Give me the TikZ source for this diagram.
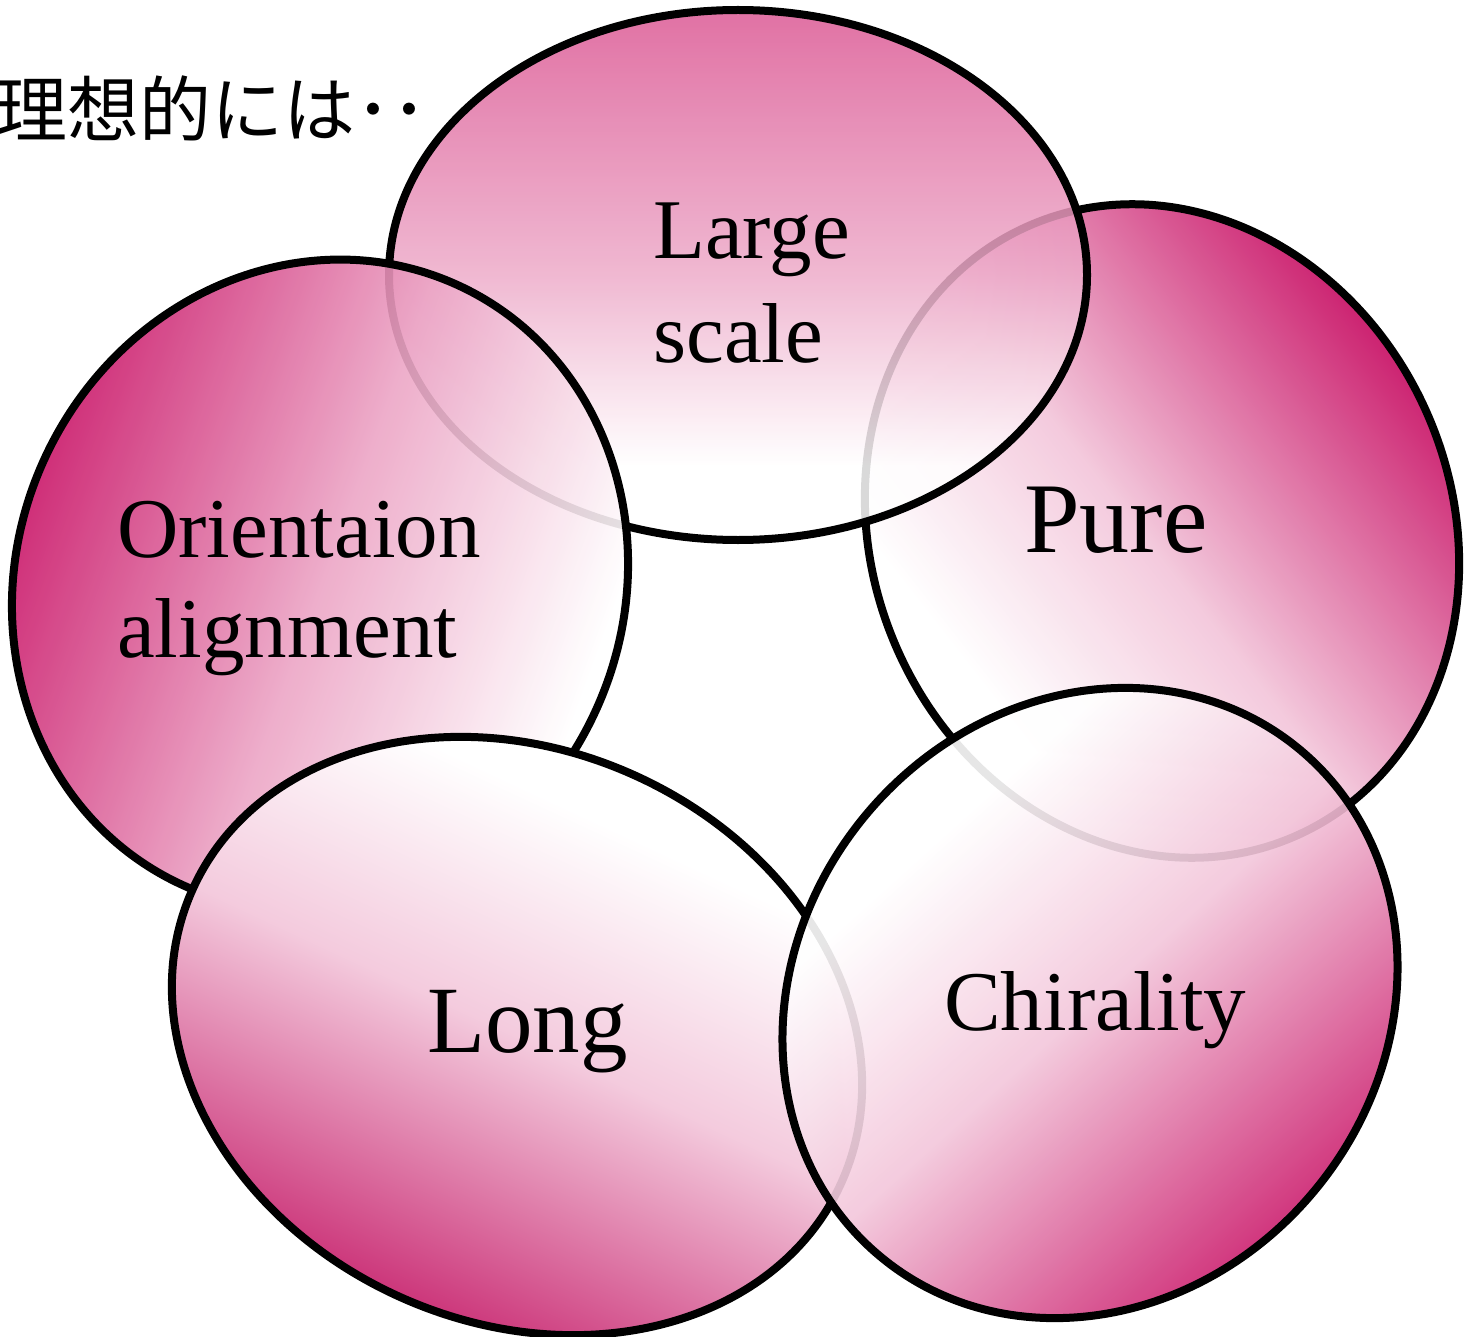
\documentclass[tikz,border=0pt]{standalone}
\usepackage{fontspec}
\setmainfont{Liberation Serif}
\newfontfamily\jpfont{Noto Sans CJK JP}
\definecolor{mag}{RGB}{204,17,102}
\definecolor{magd}{RGB}{196,0,90}
% dark end at the top, white end at the bottom (rotated with shading angle)
\pgfdeclareverticalshading{bubA}{100bp}{color(0bp)=(white); color(34bp)=(white); color(50bp)=(mag!24!white); color(75bp)=(magd); color(100bp)=(magd)}
\pgfdeclareverticalshading{bubG}{100bp}{color(0bp)=(white); color(34bp)=(white); color(50bp)=(mag!22!white); color(75bp)=(mag!95!black); color(100bp)=(mag!95!black)}
\pgfdeclareverticalshading{bubL}{100bp}{color(0bp)=(white); color(30bp)=(white); color(50bp)=(mag!38!white); color(75bp)=(magd); color(100bp)=(magd)}
\pgfdeclareverticalshading{bubT}{100bp}{color(0bp)=(white); color(32bp)=(white); color(50bp)=(mag!35!white); color(75bp)=(mag!70!white); color(100bp)=(mag!70!white)}
% #1,#2 centre  #3,#4 radii  #5 tilt  #6 direction of the dark end  #7 shading  #8 opacity
\newcommand\mybubble[8]{%
  \path[rotate around={#5:(#1,#2)}, fill opacity=#8, shading=#7, shading angle=#6]
    (#1,#2) ellipse [x radius=#3, y radius=#4];
  \draw[outline, rotate around={#5:(#1,#2)}] (#1,#2) ellipse [x radius=#3, y radius=#4];}
\begin{document}
\begin{tikzpicture}[x=1pt,y=-1pt,
  outline/.style={draw=black, line width=8pt},
  lbl/.style={anchor=base west, inner sep=0pt, align=left}]
\useasboundingbox (0,0) rectangle (1474,1337);

% Pure (lowest)
\mybubble{1162}{531}{290}{333}{23.2}{-52}{bubA}{0.92}
% Large scale
\mybubble{738}{275}{349}{265}{0}{0}{bubT}{0.85}
% Orientation alignment
\mybubble{320}{585}{303}{330}{-25}{70}{bubL}{0.9}
% Long
\mybubble{517}{1036}{356}{286}{-24.4}{155}{bubG}{1}
% Chirality (top-most)
\mybubble{1090}{1003}{292.6}{329}{-39}{-138}{bubA}{0.9}

\node[lbl, font=\fontsize{85}{104}\selectfont] (large) at (653,362) {Large\\scale};
\node[lbl, font=\fontsize{100}{110}\selectfont] (pure) at (1024,552) {Pure};
\node[lbl, font=\fontsize{85}{100}\selectfont] (orient) at (117,657) {Orientaion\\alignment};
\node[lbl, font=\fontsize{95}{110}\selectfont] (long) at (427,1052) {Long};
\node[lbl, font=\fontsize{85}{100}\selectfont] (chir) at (944,1030) {Chirality};
\node[lbl, font=\jpfont\fontsize{72}{72}\selectfont] (jp) at (-5,137) {理想的には･･};
\end{tikzpicture}
\end{document}
